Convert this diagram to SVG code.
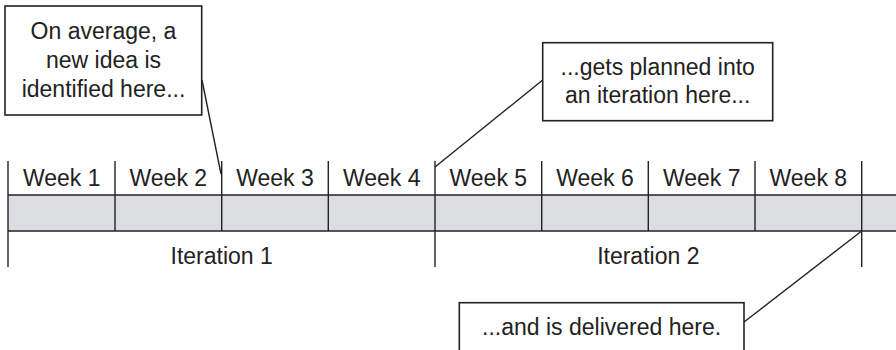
<svg xmlns="http://www.w3.org/2000/svg" width="896" height="350" viewBox="0 0 896 350">
<style>
  text { font-family: "Liberation Sans", Arial, sans-serif; font-size: 23px; fill: #222; text-anchor: middle; }
  .ln { stroke: #222; stroke-width: 1.4; fill: none; }
  .box { stroke: #222; stroke-width: 1.6; fill: #fff; }
</style>
<rect width="896" height="350" fill="#fff"/>
<g id="timeline">
  <rect x="8" y="195" width="888" height="36" fill="#dcdde0"/>
  <line class="ln" x1="8" y1="195" x2="896" y2="195"/>
  <line class="ln" x1="8" y1="231" x2="896" y2="231"/>
  <line class="ln" x1="8" y1="161" x2="8" y2="267"/>
  <line class="ln" x1="435" y1="161" x2="435" y2="267"/>
  <line class="ln" x1="861.7" y1="161" x2="861.7" y2="267"/>
  <line class="ln" x1="115" y1="161" x2="115" y2="231"/>
  <line class="ln" x1="221.7" y1="161" x2="221.7" y2="231"/>
  <line class="ln" x1="328.3" y1="161" x2="328.3" y2="231"/>
  <line class="ln" x1="541.7" y1="161" x2="541.7" y2="231"/>
  <line class="ln" x1="648.3" y1="161" x2="648.3" y2="231"/>
  <line class="ln" x1="755" y1="161" x2="755" y2="231"/>
  <text x="61.7" y="186">Week 1</text>
  <text x="168.3" y="186">Week 2</text>
  <text x="275" y="186">Week 3</text>
  <text x="381.7" y="186">Week 4</text>
  <text x="488.3" y="186">Week 5</text>
  <text x="595" y="186">Week 6</text>
  <text x="701.7" y="186">Week 7</text>
  <text x="808.3" y="186">Week 8</text>
  <text x="221.7" y="264">Iteration 1</text>
  <text x="648.3" y="264">Iteration 2</text>
</g>
<g id="connectors">
  <line class="ln" x1="202" y1="80" x2="221" y2="174"/>
  <line class="ln" x1="542.7" y1="80" x2="435" y2="167"/>
  <line class="ln" x1="861.7" y1="231" x2="744" y2="322"/>
</g>
<g id="note1">
  <rect class="box" x="5" y="6" width="196.7" height="109"/>
  <text x="103.5" y="39">On average, a</text>
  <text x="103.5" y="68">new idea is</text>
  <text x="103.5" y="97">identified here...</text>
</g>
<g id="note2">
  <rect class="box" x="542.7" y="42.7" width="230" height="78"/>
  <text x="657.7" y="75">...gets planned into</text>
  <text x="657.7" y="103">an iteration here...</text>
</g>
<g id="note3">
  <rect class="box" x="459.3" y="302.7" width="284.7" height="60"/>
  <text x="601.6" y="335">...and is delivered here.</text>
</g>
</svg>
